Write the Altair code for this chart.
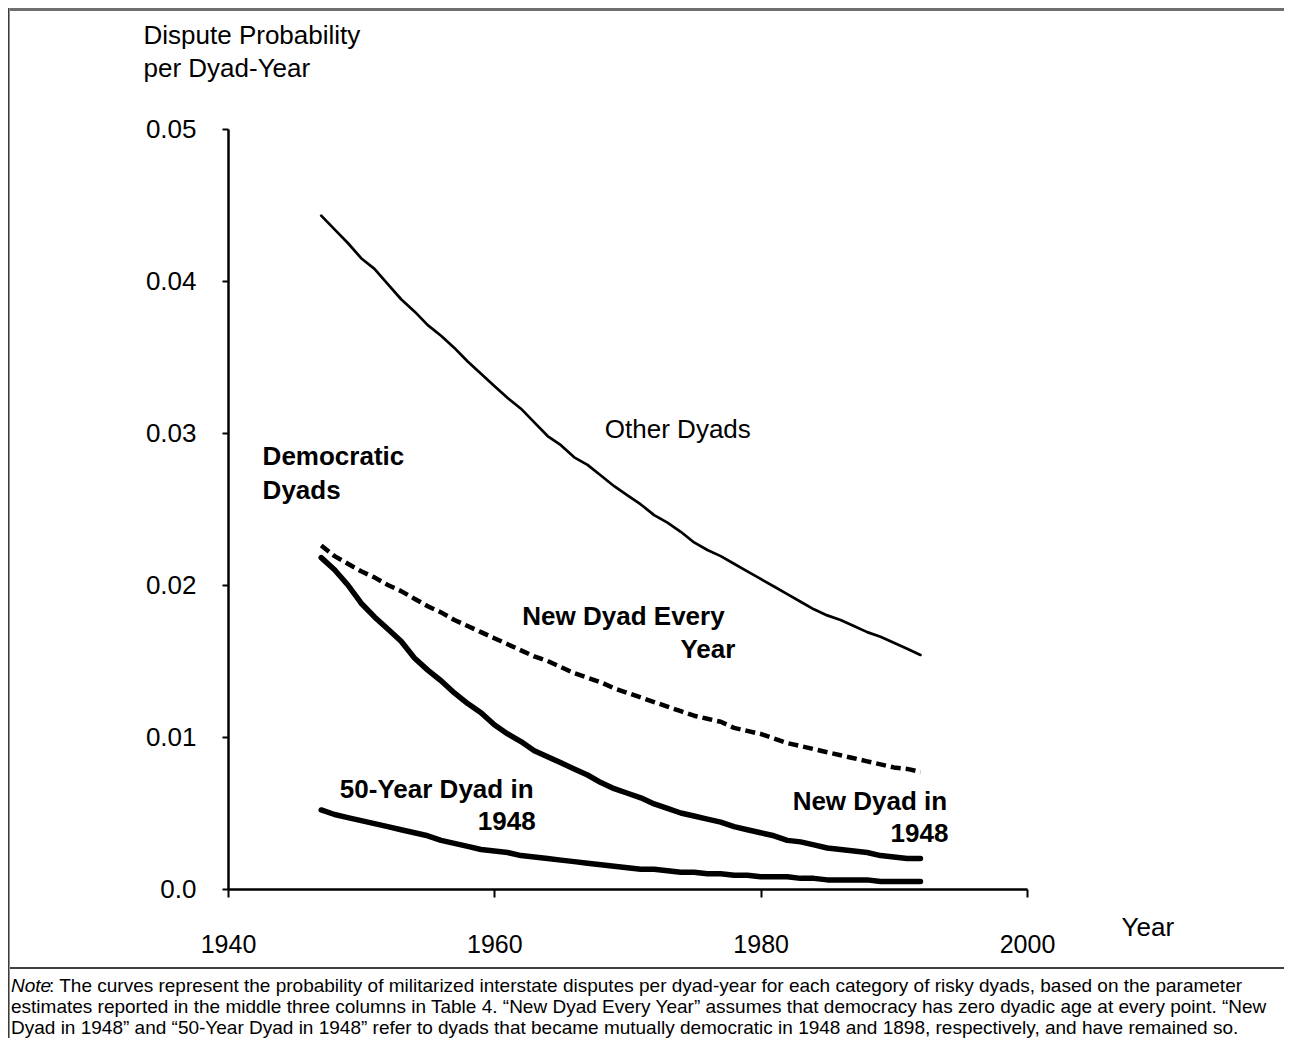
import altair as alt
import pandas as pd

# ---------------- data ----------------
years = list(range(1947, 1993))

other_dyads = [0.0443, 0.0434, 0.0425, 0.0415, 0.0408, 0.0398, 0.0388, 0.0380, 0.0371, 0.0364,
               0.0356, 0.0347, 0.0339, 0.0331, 0.0323, 0.0316, 0.0307, 0.0298, 0.0292, 0.0284,
               0.0279, 0.0272, 0.0265, 0.0259, 0.0253, 0.0246, 0.0241, 0.0235, 0.0228, 0.0223,
               0.0219, 0.0214, 0.0209, 0.0204, 0.0199, 0.0194, 0.0189, 0.0184, 0.0180, 0.0177,
               0.0173, 0.0169, 0.0166, 0.0162, 0.0158, 0.0154]

new_dyad_every_year = [0.0226, 0.0219, 0.0214, 0.0209, 0.0205, 0.0200, 0.0196, 0.0191, 0.0186, 0.0182,
                       0.0177, 0.0173, 0.0169, 0.0165, 0.0161, 0.0157, 0.0153, 0.0150, 0.0146, 0.0142,
                       0.0139, 0.0136, 0.0132, 0.0129, 0.0126, 0.0123, 0.0120, 0.0117, 0.0114, 0.0112,
                       0.0110, 0.0106, 0.0104, 0.0102, 0.0099, 0.0096, 0.0094, 0.0092, 0.0090, 0.0088,
                       0.0086, 0.0084, 0.0082, 0.0080, 0.0079, 0.0077]

new_dyad_1948 = [0.0218, 0.0210, 0.0200, 0.0188, 0.0179, 0.0171, 0.0163, 0.0152, 0.0144, 0.0137,
                 0.0129, 0.0122, 0.0116, 0.0108, 0.0102, 0.0097, 0.0091, 0.0087, 0.0083, 0.0079,
                 0.0075, 0.0070, 0.0066, 0.0063, 0.0060, 0.0056, 0.0053, 0.0050, 0.0048, 0.0046,
                 0.0044, 0.0041, 0.0039, 0.0037, 0.0035, 0.0032, 0.0031, 0.0029, 0.0027, 0.0026,
                 0.0025, 0.0024, 0.0022, 0.0021, 0.0020, 0.0020]

fifty_year_1948 = [0.0052, 0.0049, 0.0047, 0.0045, 0.0043, 0.0041, 0.0039, 0.0037, 0.0035, 0.0032,
                   0.0030, 0.0028, 0.0026, 0.0025, 0.0024, 0.0022, 0.0021, 0.0020, 0.0019, 0.0018,
                   0.0017, 0.0016, 0.0015, 0.0014, 0.0013, 0.0013, 0.0012, 0.0011, 0.0011, 0.0010,
                   0.0010, 0.0009, 0.0009, 0.0008, 0.0008, 0.0008, 0.0007, 0.0007, 0.0006, 0.0006,
                   0.0006, 0.0006, 0.0005, 0.0005, 0.0005, 0.0005]

x_ticks = [1940, 1960, 1980, 2000]
y_ticks = [0.0, 0.01, 0.02, 0.03, 0.04, 0.05]

# in-plot labels: text, year position, probability position
label_text = ["Other Dyads", "Democratic", "Dyads", "New Dyad Every", "Year",
              "50-Year Dyad in", "1948", "New Dyad in", "1948"]
label_year = [1968.3, 1942.6, 1942.6, 1962.1, 1978.1, 1948.4, 1963.1, 1982.4, 1994.1]
label_prob = [0.0302, 0.0284, 0.0262, 0.0179, 0.0157, 0.0065, 0.0044, 0.0057, 0.0036]
label_kind = ["regular", "bold_left", "bold_left", "bold_left", "bold_right",
              "bold_left", "bold_right", "bold_left", "bold_right"]

note_lines = [
    ": The curves represent the probability of militarized interstate disputes per dyad-year for each category of risky dyads, based on the parameter",
    "estimates reported in the middle three columns in Table 4. \u201cNew Dyad Every Year\u201d assumes that democracy has zero dyadic age at every point. \u201cNew",
    "Dyad in 1948\u201d and \u201c50-Year Dyad in 1948\u201d refer to dyads that became mutually democratic in 1948 and 1898, respectively, and have remained so.",
]

# ---------------- tables ----------------
series = {
    "Other Dyads": other_dyads,
    "New Dyad Every Year": new_dyad_every_year,
    "New Dyad in 1948": new_dyad_1948,
    "50-Year Dyad in 1948": fifty_year_1948,
}
rows = []
for name, vals in series.items():
    for yr, v in zip(years, vals):
        rows.append({"series": name, "year": yr, "prob": v})
df = pd.DataFrame(rows)
labels = pd.DataFrame({"text": label_text, "year": label_year, "prob": label_prob, "kind": label_kind})

FONT = "Liberation Sans"
W, H = 799, 760
LBL = 26

x_enc = alt.X("year:Q",
              scale=alt.Scale(domain=[1940, 2000], nice=False, zero=False),
              axis=alt.Axis(values=x_ticks, format="d", tickSize=8, tickWidth=2, tickColor="black",
                            domainColor="black", domainWidth=2.5, labelFontSize=25, labelColor="black",
                            labelPadding=35, labelFlush=False, grid=False,
                            title="Year", titleFontSize=26, titleFontWeight="normal", titleColor="black",
                            titleX=893, titleY=46, titleAlign="left", titleBaseline="alphabetic",
                            titleAnchor="start"))
y_enc = alt.Y("prob:Q",
              scale=alt.Scale(domain=[0, 0.05], nice=False),
              axis=alt.Axis(values=y_ticks,
                            labelExpr="datum.value == 0 ? '0.0' : format(datum.value, '.2f')",
                            tickSize=6, tickWidth=2, tickColor="black", domainColor="black",
                            domainWidth=2.5, labelFontSize=26, labelColor="black", labelPadding=26,
                            labelFlush=False, grid=False,
                            title=["Dispute Probability", "per Dyad-Year"], titleAngle=0,
                            titleFontSize=26, titleFontWeight="normal", titleColor="black",
                            titleX=-85, titleY=-86, titleAlign="left", titleBaseline="alphabetic",
                            titleLineHeight=33, titleAnchor="start"))

base = alt.Chart(df)


def line(name, width, dash=None):
    kw = dict(color="black", strokeWidth=width, strokeJoin="round")
    if dash:
        kw["strokeDash"] = dash
        kw["strokeCap"] = "butt"
    else:
        kw["strokeCap"] = "round"
    return base.transform_filter(alt.datum.series == name).mark_line(**kw).encode(x=x_enc, y=y_enc)


l_other = line("Other Dyads", 2.7)
l_every = line("New Dyad Every Year", 4.5, [10, 5])
l_new = line("New Dyad in 1948", 5.5)
l_fifty = line("50-Year Dyad in 1948", 5.5)

lab = alt.Chart(labels)
t_reg = lab.transform_filter(alt.datum.kind == "regular").mark_text(
    font=FONT, fontSize=LBL, align="left", baseline="middle", color="black").encode(
    x="year:Q", y="prob:Q", text="text:N")
t_bl = lab.transform_filter(alt.datum.kind == "bold_left").mark_text(
    font=FONT, fontSize=LBL, fontWeight="bold", align="left", baseline="middle", color="black").encode(
    x="year:Q", y="prob:Q", text="text:N")
t_br = lab.transform_filter(alt.datum.kind == "bold_right").mark_text(
    font=FONT, fontSize=LBL, fontWeight="bold", align="right", baseline="middle", color="black").encode(
    x="year:Q", y="prob:Q", text="text:N")

# note block (below the chart)
NOTE = 19
one = pd.DataFrame({"a": [0]})
note_word = alt.Chart(pd.DataFrame({"t": ["Note"]})).mark_text(
    font=FONT, fontSize=NOTE, fontStyle="italic", align="left", baseline="alphabetic", color="black").encode(
    x=alt.value(-217), y=alt.value(992 - 129), text="t:N")
note_texts = []
for i, line_txt in enumerate(note_lines):
    xpos = -179 if i == 0 else -217
    note_texts.append(alt.Chart(pd.DataFrame({"t": [line_txt]})).mark_text(
        font=FONT, fontSize=NOTE, align="left", baseline="alphabetic", color="black").encode(
        x=alt.value(xpos), y=alt.value(992 - 129 + 21 * i), text="t:N"))

note_rule = alt.Chart(one).mark_rule(color="black", strokeWidth=1.5).encode(
    x=alt.value(-218), x2=alt.value(1060), y=alt.value(968 - 129))
top_rule = alt.Chart(one).mark_rule(color="#6e6e6e", strokeWidth=3).encode(
    x=alt.value(-218), x2=alt.value(1060), y=alt.value(-119.5))
left_rule = alt.Chart(one).mark_rule(color="#333333", strokeWidth=1.5).encode(
    x=alt.value(-219.2), y=alt.value(-121), y2=alt.value(910))

chart = alt.layer(
    l_other, l_every, l_new, l_fifty, t_reg, t_bl, t_br,
    note_rule, top_rule, left_rule, note_word, *note_texts
).properties(
    width=W, height=H,
    padding={"left": 220, "top": 121, "right": 257, "bottom": 149},
    autosize=alt.AutoSizeParams(type="none"),
).configure(font=FONT).configure_view(stroke=None)

chart.save("out.html", embed_options={"renderer": "svg", "actions": False})
